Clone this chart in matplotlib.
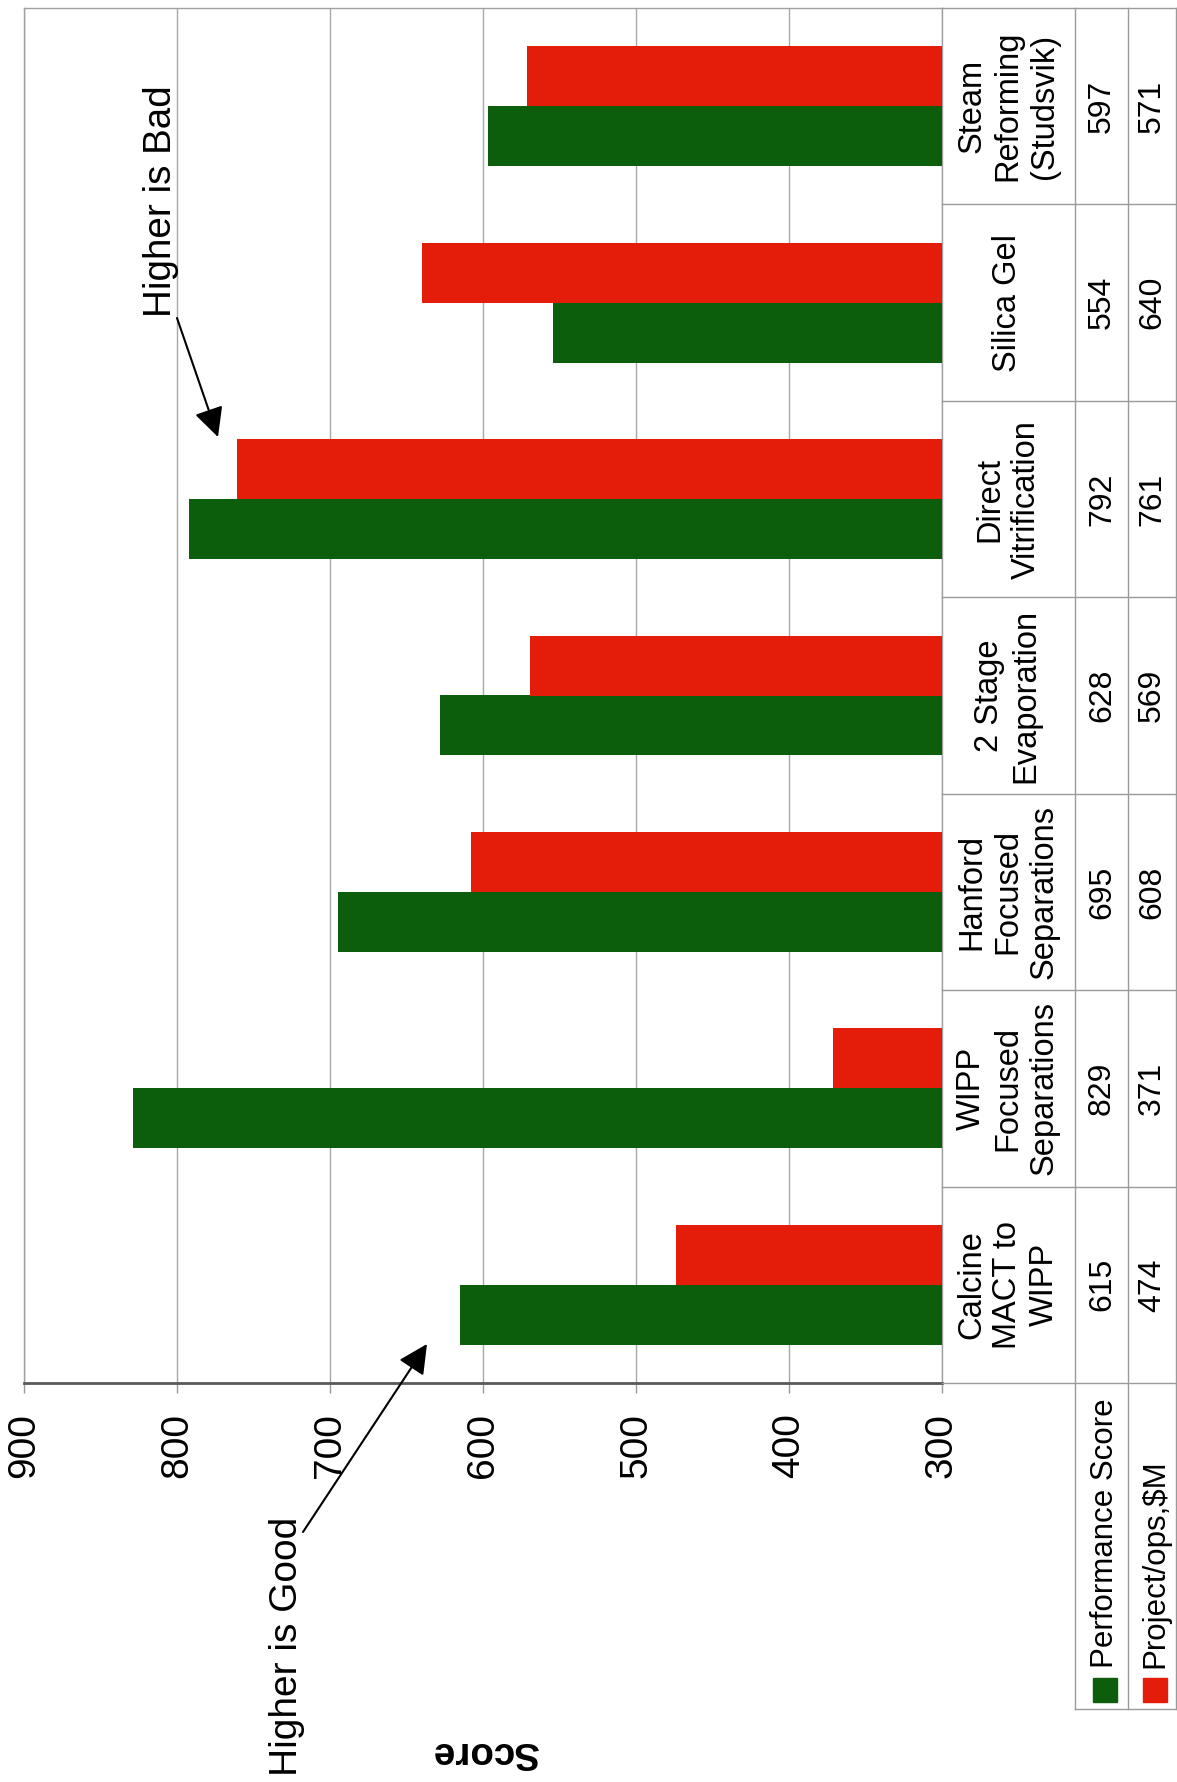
import numpy as np
import matplotlib
matplotlib.use("Agg")
import matplotlib.pyplot as plt
import matplotlib.transforms as mtransforms
from matplotlib.patches import Rectangle

plt.rcParams['font.family'] = ['Liberation Sans', 'DejaVu Sans']

# ---- data (bottom to top in the rotated picture) ----
categories = ["Calcine\nMACT to\nWIPP", "WIPP\nFocused\nSeparations",
              "Hanford\nFocused\nSeparations", "2 Stage\nEvaporation",
              "Direct\nVitrification", "Silica Gel",
              "Steam\nReforming\n(Studsvik)"]
perf_score = [615, 829, 695, 628, 792, 554, 597]
project_cost = [474, 371, 608, 569, 761, 640, 571]
series_names = ["Performance Score", "Project/ops,$M"]
score_ticks = [300, 400, 500, 600, 700, 800, 900]
axis_label = "Score"
note_good = "Higher is Good"
note_bad = "Higher is Bad"

GREEN = "#0c5e0c"
RED = "#e41c0a"
W, H = 1177, 1782

fig = plt.figure(figsize=(W / 100, H / 100), dpi=100)
fig.patch.set_facecolor("white")

def fx(px):
    return px / W

def fy(py):
    return 1 - py / H

# main (rotated) bar axes
ax = fig.add_axes([fx(24), fy(1383), fx(942) - fx(24), fy(8) - fy(1383)])
base = score_ticks[0]
y = np.arange(len(categories))
h = 0.305
ax.barh(y - h / 2, np.array(perf_score) - base, left=base, height=h,
        color=GREEN, zorder=3)
ax.barh(y + h / 2, np.array(project_cost) - base, left=base, height=h,
        color=RED, zorder=3)
ax.set_xlim(score_ticks[-1], score_ticks[0])
ax.set_ylim(-0.5, len(categories) - 0.5)
ax.set_xticks(score_ticks)
ax.set_xticklabels([str(t) for t in score_ticks], rotation=90, fontsize=28)
ax.set_yticks([])
ax.grid(axis="x", color="#a8a8a8", lw=1.0)
ax.set_axisbelow(True)
for s in ["left", "top", "right"]:
    ax.spines[s].set_color("#a0a0a0")
    ax.spines[s].set_linewidth(1.0)
ax.spines["bottom"].set_color("#5a5a5a")
ax.spines["bottom"].set_linewidth(2.0)
ax.tick_params(axis="x", direction="out", length=7.5, width=1.0,
               color="#999999", pad=14)

# overlay in pixel coordinates
ov = fig.add_axes([0, 0, 1, 1], zorder=5)
ov.set_xlim(0, W)
ov.set_ylim(H, 0)
ov.axis("off")
ov.patch.set_alpha(0)
trans = mtransforms.blended_transform_factory(ov.transData, ax.transData)

LC = "#9a9a9a"
# table grid
for k in range(len(categories) + 1):
    ov.plot([942, 1176], [k - 0.5, k - 0.5], color=LC, lw=1.0, transform=trans)
for xv in [1075, 1128, 1176]:
    ov.plot([xv, xv], [8, 1709], color=LC, lw=1.0)
ov.plot([1075, 1176], [1709, 1709], color=LC, lw=1.0)

for i, cat in enumerate(categories):
    ov.text(1008, i, cat, transform=trans, rotation=90, ha="center",
            va="center", multialignment="center", fontsize=23.5, linespacing=1.22)
    ov.text(1102, i, str(perf_score[i]), transform=trans, rotation=90,
            ha="center", va="center", fontsize=23)
    ov.text(1152, i, str(project_cost[i]), transform=trans, rotation=90,
            ha="center", va="center", fontsize=23)

# legend
for xc, col, name in [(1105, GREEN, series_names[0]), (1155, RED, series_names[1])]:
    ov.add_patch(Rectangle((xc - 12, 1678), 24, 24, color=col))
    ov.text(xc, 1668, name, rotation=90, ha="center", va="bottom", fontsize=22.5)

# annotations
ov.text(161, 201, note_bad, rotation=90, ha="center", va="center", fontsize=27.8)
ov.annotate("", xy=(218, 437), xytext=(177, 318),
            arrowprops=dict(arrowstyle="-|>,head_length=0.5,head_width=0.25",
                            color="black", lw=1.5, mutation_scale=36,
                            shrinkA=0, shrinkB=0))
ov.text(287, 1646, note_good, rotation=90, ha="center", va="center", fontsize=28)
ov.annotate("", xy=(427, 1344), xytext=(303, 1532),
            arrowprops=dict(arrowstyle="-|>,head_length=0.5,head_width=0.25",
                            color="black", lw=1.5, mutation_scale=36,
                            shrinkA=0, shrinkB=0))
ov.text(484, 1752, axis_label, rotation=180, ha="center", va="center",
        fontsize=27.7, fontweight="bold")

fig.savefig("out.png", dpi=100)
